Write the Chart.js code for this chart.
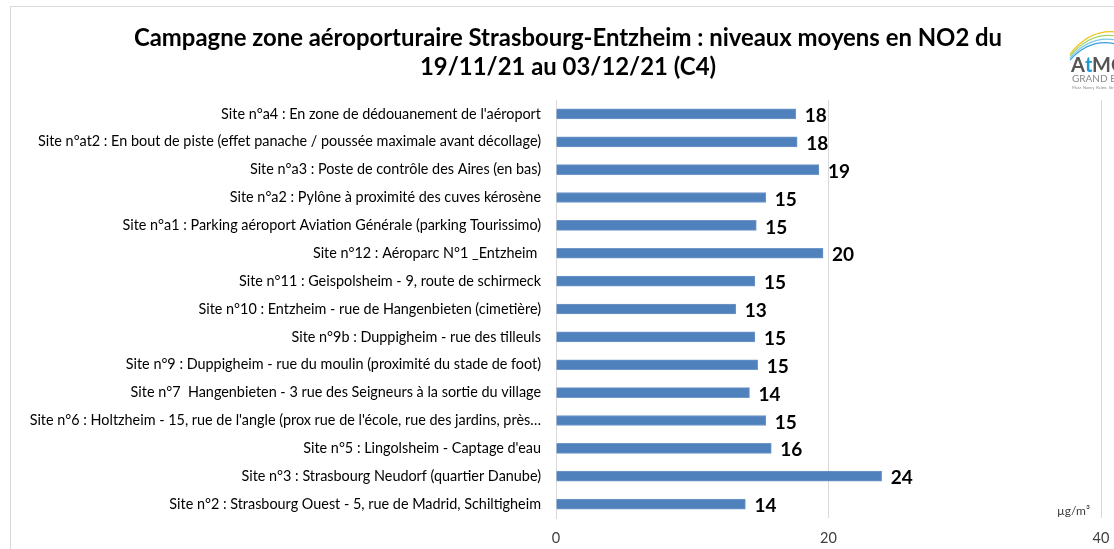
<!DOCTYPE html>
<html lang="fr">
<head>
<meta charset="utf-8">
<title>Campagne zone aéroporturaire Strasbourg-Entzheim</title>
<script src="https://cdn.jsdelivr.net/npm/chart.js@4/dist/chart.umd.min.js"></script>
<style>
  html, body { margin: 0; padding: 0; background: #fff; }
  #wrap { position: relative; width: 1114px; height: 549px; }
</style>
</head>
<body>
<div id="wrap"><canvas id="chart" width="1114" height="549"></canvas></div>
<script>
// Données (NO2, µg/m3)
const sites = [
  "Site n°a4 : En zone de dédouanement de l'aéroport",
  "Site n°at2 : En bout de piste (effet panache / poussée maximale avant décollage)",
  "Site n°a3 : Poste de contrôle des Aires (en bas)",
  "Site n°a2 : Pylône à proximité des cuves kérosène",
  "Site n°a1 : Parking aéroport Aviation Générale (parking Tourissimo)",
  "Site n°12 : Aéroparc N°1 _Entzheim ",
  "Site n°11 : Geispolsheim - 9, route de schirmeck",
  "Site n°10 : Entzheim - rue de Hangenbieten (cimetière)",
  "Site n°9b : Duppigheim - rue des tilleuls",
  "Site n°9 : Duppigheim - rue du moulin (proximité du stade de foot)",
  "Site n°7  Hangenbieten - 3 rue des Seigneurs à la sortie du village",
  "Site n°6 : Holtzheim - 15, rue de l'angle (prox rue de l'école, rue des jardins, près…",
  "Site n°5 : Lingolsheim - Captage d'eau",
  "Site n°3 : Strasbourg Neudorf (quartier Danube)",
  "Site n°2 : Strasbourg Ouest - 5, rue de Madrid, Schiltigheim",
];
const no2Values = [17.6, 17.7, 19.3, 15.4, 14.7, 19.6, 14.6, 13.2, 14.6, 14.8, 14.2, 15.4, 15.8, 23.9, 13.9];
const xTicks = [0, 20, 40];
const titleLines = [
  'Campagne zone aéroporturaire Strasbourg-Entzheim : niveaux moyens en NO2 du',
  '19/11/21 au 03/12/21 (C4)',
];
const unitLabel = 'µg/m³';

const FONT = 'Lato, "Liberation Sans", sans-serif';

// Cadre, titre, logo et unité
const decorPlugin = {
  id: 'decor',
  beforeDraw(chart) {
    const ctx = chart.ctx;
    ctx.save();
    ctx.strokeStyle = '#d9d9d9';
    ctx.lineWidth = 1;
    ctx.strokeRect(10.5, 6.5, 2000, 2000);
    ctx.restore();
  },
  afterDraw(chart) {
    const ctx = chart.ctx;
    ctx.save();
    ctx.fillStyle = '#000';
    ctx.font = 'bold 23.9px ' + FONT;
    ctx.textAlign = 'center';
    ctx.textBaseline = 'middle';
    ctx.fillText(titleLines[0], 568, 38);
    ctx.fillText(titleLines[1], 568, 67);

    // unité
    ctx.font = '12px ' + FONT;
    ctx.fillStyle = '#404040';
    ctx.textAlign = 'left';
    ctx.fillText(unitLabel, 1057, 511);

    // logo AtMO (approximation)
    const grad = ['#3aa0dc', '#7cc8e8', '#9fd36a', '#f0c419'];
    grad.forEach((c, i) => {
      ctx.strokeStyle = c;
      ctx.lineWidth = 1.2;
      ctx.beginPath();
      ctx.moveTo(1070, 60 - i * 2);
      ctx.quadraticCurveTo(1090, 38 - i * 3, 1116, 44 - i * 4);
      ctx.stroke();
    });
    ctx.font = 'bold 20px ' + FONT;
    ctx.textBaseline = 'alphabetic';
    ctx.fillStyle = '#555';
    ctx.fillText('A', 1071, 72);
    ctx.fillStyle = '#1a9ad6';
    ctx.fillText('t', 1085, 72);
    ctx.fillStyle = '#555';
    ctx.fillText('MO', 1092, 72);
    ctx.font = '10px ' + FONT;
    ctx.fillStyle = '#888';
    ctx.fillText('GRAND EST', 1072, 82);
    ctx.font = '4px ' + FONT;
    ctx.fillText('Metz  Nancy  Reims  Strasbourg', 1072, 89);
    ctx.restore();
  },
};

// Valeurs arrondies au bout des barres
const valueLabels = {
  id: 'valueLabels',
  afterDatasetsDraw(chart) {
    const ctx = chart.ctx;
    const meta = chart.getDatasetMeta(0);
    ctx.save();
    ctx.font = 'bold 19px ' + FONT;
    ctx.fillStyle = '#000';
    ctx.textAlign = 'left';
    ctx.textBaseline = 'middle';
    meta.data.forEach((bar, i) => {
      ctx.fillText(Math.round(no2Values[i]).toString(), bar.x + 9, bar.y + 2);
    });
    ctx.restore();
  },
};

const chart = new Chart(document.getElementById('chart'), {
  type: 'bar',
  data: {
    labels: sites,
    datasets: [{
      label: 'NO2',
      data: no2Values,
      backgroundColor: '#4f81bd',
      borderColor: '#6f97c9',
      borderWidth: 1,
      barThickness: 10,
    }],
  },
  options: {
    indexAxis: 'y',
    responsive: false,
    animation: false,
    layout: { padding: { top: 100, right: 13, bottom: 0, left: 0 } },
    plugins: {
      legend: { display: false },
      title: { display: false },
      tooltip: { enabled: false },
    },
    scales: {
      x: {
        min: 0,
        max: 40,
        afterBuildTicks(scale) {
          scale.ticks = xTicks.map((v) => ({ value: v }));
        },
        afterFit(scale) {
          scale.height = 31;
          scale.paddingLeft = 0;
          scale.paddingRight = 0;
        },
        grid: { color: '#d9d9d9', drawTicks: false },
        border: { display: false },
        ticks: {
          color: '#404040',
          padding: 12,
          font: { family: FONT, size: 14.5 },
        },
      },
      y: {
        afterFit(scale) { scale.width = 556; },
        grid: { display: false, drawTicks: false },
        border: { display: true, color: '#d9d9d9' },
        ticks: {
          color: '#000',
          padding: 15,
          autoSkip: false,
          font: { family: FONT, size: 14.4 },
        },
      },
    },
  },
  plugins: [decorPlugin, valueLabels],
});
</script>
</body>
</html>
